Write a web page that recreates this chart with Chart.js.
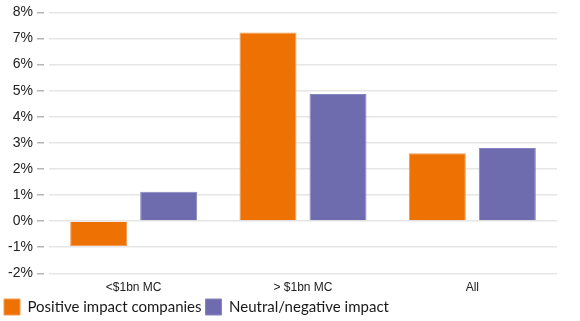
<!DOCTYPE html>
<html>
<head>
<meta charset="utf-8">
<script src="https://cdn.jsdelivr.net/npm/chart.js@4/dist/chart.umd.min.js"></script>
<style>
  html, body { margin: 0; padding: 0; background: #fff; }
  #wrap { width: 580px; height: 321px; position: relative; }
</style>
</head>
<body>
<div id="wrap"><canvas id="c"></canvas></div>
<script>
const categories = ['<$1bn MC', '> $1bn MC', 'All'];
const positiveImpact = [-0.95, 7.23, 2.6];
const neutralNegative = [1.13, 4.87, 2.8];
const seriesNames = ['Positive impact companies', 'Neutral/negative impact'];
const yMin = -2, yMax = 8, yStep = 1;

new Chart(document.getElementById('c'), {
  type: 'bar',
  data: {
    labels: categories,
    datasets: [
      { label: seriesNames[0], data: positiveImpact, backgroundColor: '#EE7203', borderColor: '#F39A55', borderWidth: 1 },
      { label: seriesNames[1], data: neutralNegative, backgroundColor: '#6E6BAE', borderColor: '#8884C2', borderWidth: 1 }
    ]
  },
  options: {
    responsive: true,
    maintainAspectRatio: false,
    animation: false,
    datasets: { bar: { categoryPercentage: 0.827, barPercentage: 0.814 } },
    layout: { padding: { top: 11, right: 23, left: 0, bottom: -4 } },
    plugins: {
      legend: {
        position: 'bottom',
        align: 'start',
        labels: {
          boxWidth: 16, boxHeight: 16, padding: 4,
          color: '#1a1a1a',
          font: { family: 'Lato', size: 15 }
        }
      },
      tooltip: { enabled: false }
    },
    scales: {
      x: {
        grid: { display: false, drawTicks: false },
        border: { display: false },
        ticks: { color: '#222', padding: 7, font: { family: 'Liberation Sans', size: 12 } },
        afterFit: (s) => { s.height = 21.7; }
      },
      y: {
        min: yMin, max: yMax,
        afterFit: (s) => { s.width = 49; },
        grid: {
          color: '#e6e6e6', lineWidth: 1.5,
          drawTicks: true, tickLength: 12, tickColor: '#b5b5b5', tickWidth: 1.5,
          tickBorderDash: [7, 5]
        },
        border: { display: false },
        ticks: {
          stepSize: yStep, padding: 4, color: '#222',
          font: { family: 'Liberation Sans', size: 14 },
          callback: (v) => v + '%'
        }
      }
    }
  }
});
</script>
</body>
</html>
